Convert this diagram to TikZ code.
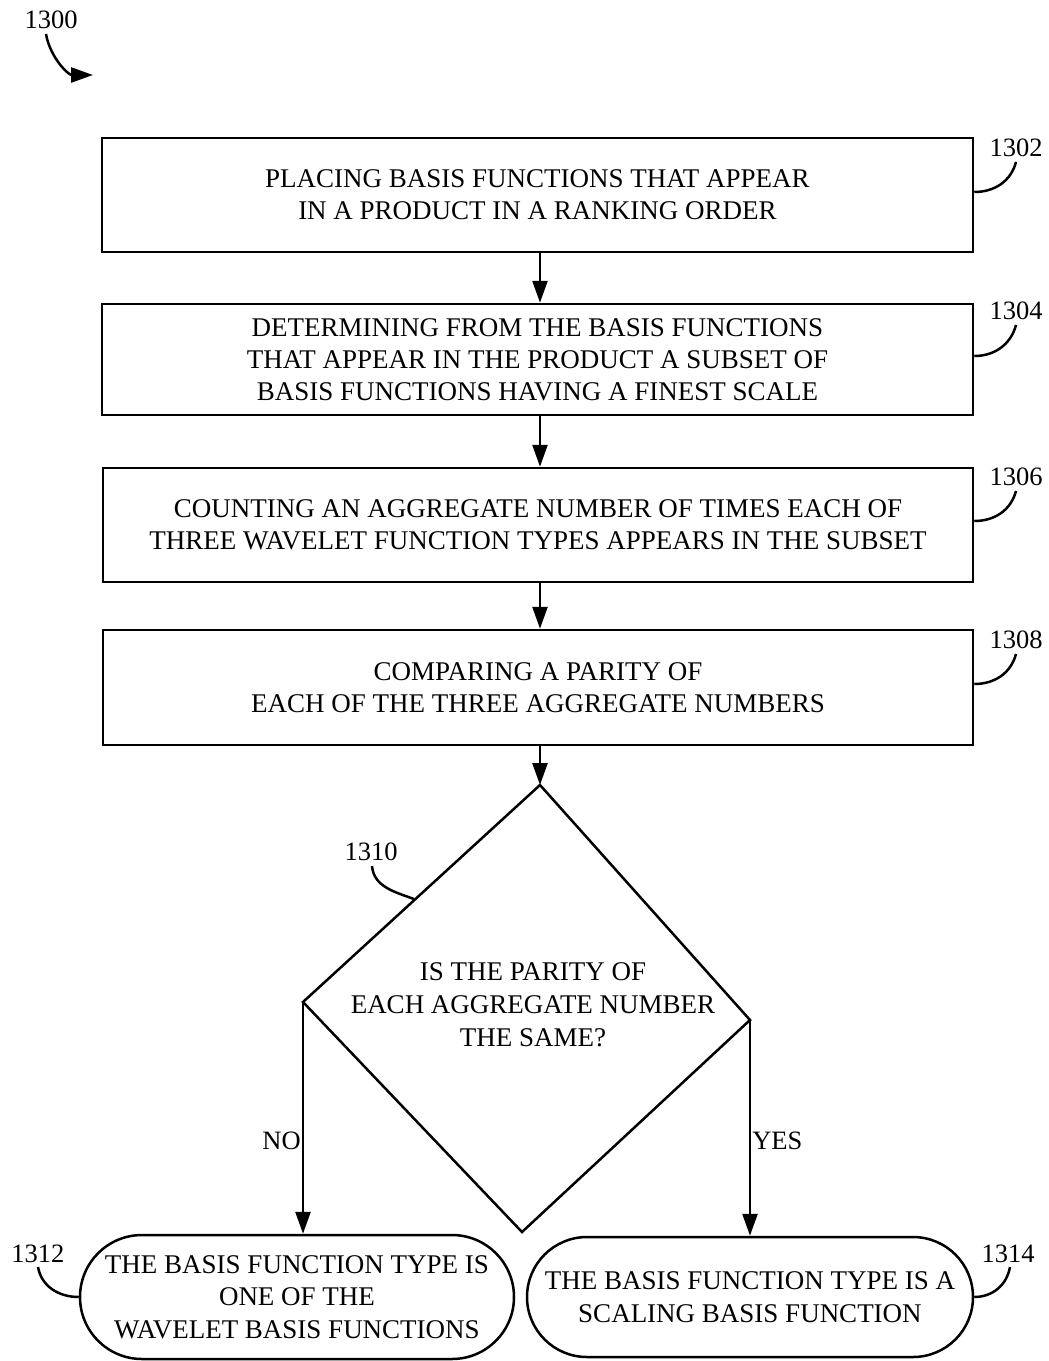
\documentclass[tikz,border=0pt]{standalone}
\usepackage{fontspec}
\setmainfont{Liberation Serif}
\usetikzlibrary{arrows.meta,shapes.misc}

\tikzset{
    procbox/.style={draw, line width=2.5pt, minimum width=871pt, minimum height=114pt,
        align=center, font=\fontsize{27}{32}\selectfont},
    termbox/.style={draw, rounded rectangle, line width=2.5pt, align=center,
        font=\fontsize{27}{32.5}\selectfont, inner sep=0pt},
    reflabel/.style={font=\fontsize{26.5}{28}\selectfont, inner sep=1pt},
    flow/.style={line width=2.5pt, -{Triangle[length=22pt,width=15pt]}},
    leader/.style={line width=2.5pt}
}

\begin{document}
\begin{tikzpicture}[x=1pt, y=-1pt]
    \useasboundingbox (0,0) rectangle (1049,1361);

    % figure number
    \node[reflabel] (fig) at (51,20) {1300};
    \coordinate (figtip) at (93,75);
    \draw[flow] (46,34) to[out=-80,in=180] (figtip);

    % process steps
    \node[procbox] (s1302) at (537.5,195) {PLACING BASIS FUNCTIONS THAT APPEAR\\IN A PRODUCT IN A RANKING ORDER};
    \node[procbox, minimum height=111pt] (s1304) at (537.5,359.5) {DETERMINING FROM THE BASIS FUNCTIONS\\THAT APPEAR IN THE PRODUCT A SUBSET OF\\BASIS FUNCTIONS HAVING A FINEST SCALE};
    \node[procbox, minimum width=870pt] (s1306) at (538,525) {COUNTING AN AGGREGATE NUMBER OF TIMES EACH OF\\THREE WAVELET FUNCTION TYPES APPEARS IN THE SUBSET};
    \node[procbox, minimum width=870pt, minimum height=115pt] (s1308) at (538,687.5) {COMPARING A PARITY OF\\EACH OF THE THREE AGGREGATE NUMBERS};

    % decision
    \coordinate (dtop) at (540,785);
    \coordinate (dleft) at (303,1002);
    \coordinate (dright) at (750,1020);
    \coordinate (dbot) at (522,1232);
    \draw[line width=2.5pt, line join=miter] (dtop) -- (dright) -- (dbot) -- (dleft) -- cycle;
    \node[align=center, font=\fontsize{27}{33}\selectfont] (q1310) at (533,1005) {IS THE PARITY OF\\EACH AGGREGATE NUMBER\\THE SAME?};

    % outcomes
    \node[termbox, minimum width=434pt, minimum height=124pt] (t1312) at (297,1297) {THE BASIS FUNCTION TYPE IS\\ONE OF THE\\WAVELET BASIS FUNCTIONS};
    \node[termbox, minimum width=446pt, minimum height=120pt] (t1314) at (750,1297) {THE BASIS FUNCTION TYPE IS A\\SCALING BASIS FUNCTION};

    % connectors
    \draw[flow] (s1302.south -| 540,0) -- (s1304.north -| 540,0);
    \draw[flow] (s1304.south -| 540,0) -- (s1306.north -| 540,0);
    \draw[flow] (s1306.south -| 540,0) -- (s1308.north -| 540,0);
    \draw[flow] (s1308.south -| 540,0) -- (dtop);
    \draw[flow] (dleft) -- (dleft |- t1312.north) node[pos=0.6, left=0pt, reflabel] (no) {NO};
    \draw[flow] (dright) -- (dright |- t1314.north) node[pos=0.56, right=0pt, reflabel] (yes) {YES};

    % reference numerals
    \node[reflabel] (n1302) at (1016,148) {1302};
    \node[reflabel] (n1304) at (1016,311) {1304};
    \node[reflabel] (n1306) at (1016,477) {1306};
    \node[reflabel] (n1308) at (1016,640) {1308};
    \node[reflabel] (n1310) at (371,852) {1310};
    \node[reflabel] (n1312) at (38,1254) {1312};
    \node[reflabel] (n1314) at (1008,1254) {1314};

    \draw[leader] (1016,162) to[out=-105,in=0] (s1302.east |- 0,192);
    \draw[leader] (1016,325) to[out=-105,in=0] (s1304.east |- 0,356);
    \draw[leader] (1016,491) to[out=-105,in=0] (s1306.east |- 0,521);
    \draw[leader] (1016,654) to[out=-105,in=0] (s1308.east |- 0,684);
    \draw[leader] (372,866) to[out=-85,in=160] (414,899);
    \draw[leader] (38,1267) to[out=-80,in=180] (t1312.west);
    \draw[leader] (1010,1267) to[out=-100,in=0] (t1314.east);
\end{tikzpicture}
\end{document}
